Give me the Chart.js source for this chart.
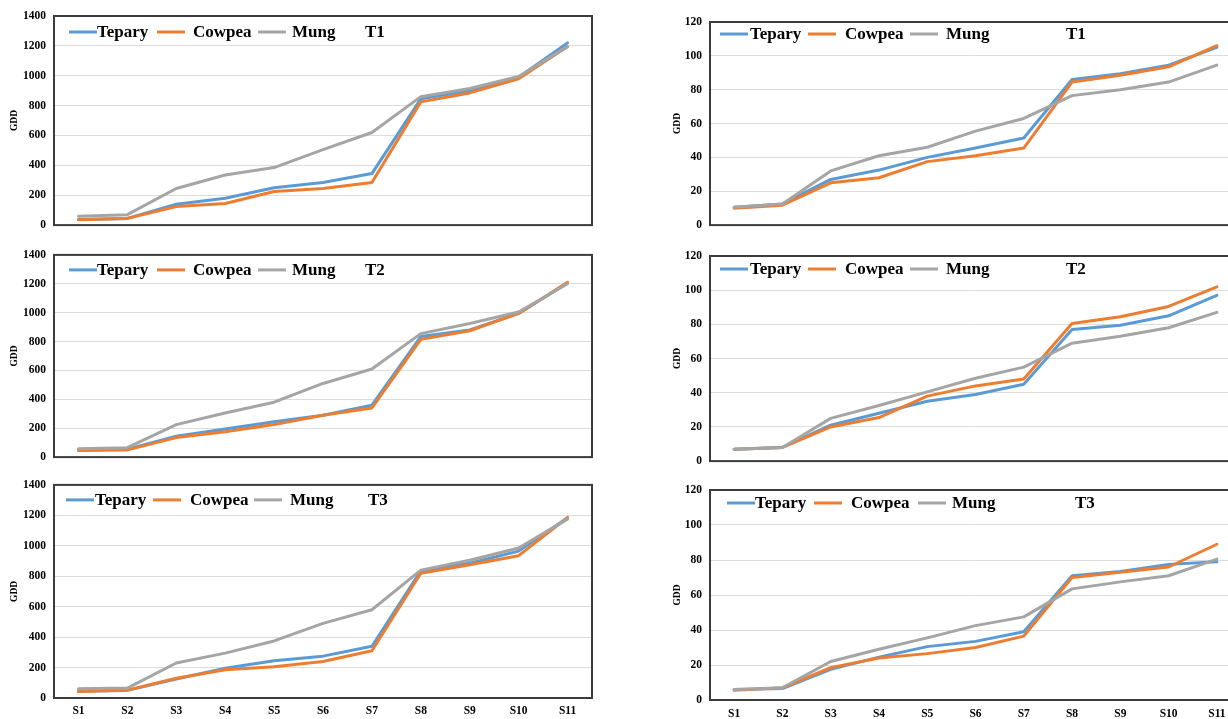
<!DOCTYPE html>
<html>
<head>
<meta charset="utf-8">
<script src="https://cdn.jsdelivr.net/npm/chart.js@4.4.1/dist/chart.umd.min.js"></script>
<style>
html,body{margin:0;padding:0;background:#fff;overflow:hidden;width:1228px;height:719px;position:relative}
canvas{position:absolute}
</style>
</head>
<body>
<canvas id="L1"></canvas>
<canvas id="L2"></canvas>
<canvas id="L3"></canvas>
<canvas id="R1"></canvas>
<canvas id="R2"></canvas>
<canvas id="R3"></canvas>
<script>
// ---------- DATA ----------
const categories = ['S1','S2','S3','S4','S5','S6','S7','S8','S9','S10','S11'];
const seriesNames = ['Tepary','Cowpea','Mung'];
const panelTitles = ['T1','T2','T3'];
const yAxisTitle = 'GDD';
const leftTickValues = [0,200,400,600,800,1000,1200,1400];
const rightTickValues = [0,20,40,60,80,100,120];

const leftT1Tepary = [38, 45, 140, 180, 250, 285, 345, 845, 900, 990, 1220];
const leftT1Cowpea = [35, 45, 125, 145, 225, 245, 285, 825, 885, 980, 1195];
const leftT1Mung   = [60, 70, 245, 335, 385, 505, 620, 860, 915, 995, 1195];

const leftT2Tepary = [50, 55, 145, 195, 245, 290, 360, 835, 880, 995, 1205];
const leftT2Cowpea = [45, 50, 135, 175, 225, 290, 340, 815, 875, 995, 1210];
const leftT2Mung   = [57, 65, 225, 305, 380, 510, 610, 855, 925, 1005, 1200];

const leftT3Tepary = [45, 50, 125, 195, 245, 275, 340, 835, 885, 965, 1185];
const leftT3Cowpea = [42, 52, 130, 185, 205, 240, 310, 820, 875, 935, 1185];
const leftT3Mung   = [60, 65, 230, 295, 375, 490, 580, 840, 905, 985, 1175];

const rightT1Tepary = [10.5, 12.5, 27, 32.5, 40, 45.5, 51.5, 86, 89.5, 94.5, 105];
const rightT1Cowpea = [10, 11.8, 25, 28, 37.5, 41, 45.5, 84.5, 88.5, 93.5, 106];
const rightT1Mung   = [10.5, 12.5, 32, 41, 46, 55.5, 63, 76.5, 80, 84.5, 94.5];

const rightT2Tepary = [7, 8, 21, 28, 35, 39, 45, 77, 79.5, 85, 97];
const rightT2Cowpea = [7, 8, 20, 25.5, 38, 44, 48, 80.5, 84.5, 90.5, 102];
const rightT2Mung   = [7, 8, 25, 32.5, 40.5, 48.5, 55, 69, 73, 78, 87];

const rightT3Tepary = [6, 6.5, 17.5, 24.5, 30.5, 33.5, 39, 71, 73.5, 77.5, 79];
const rightT3Cowpea = [5.5, 7, 18.5, 24, 26.5, 30, 36.5, 70, 73, 76, 89];
const rightT3Mung   = [6, 7, 22, 29, 35.5, 42.5, 47.5, 63.5, 67.5, 71, 80.5];

// ---------- STYLE ----------
const seriesColors = ['#5B9BD5', '#ED7D31', '#A5A5A5'];
const seriesOrder = [3, 2, 1];
const FONT = '"Liberation Serif", "Times New Roman", serif';

const framePlugin = {
  id: 'frame',
  beforeDatasetsDraw(chart) {
    const {ctx, chartArea: a} = chart;
    ctx.save();
    ctx.strokeStyle = '#3c3c3c';
    ctx.lineWidth = 2;
    ctx.strokeRect(a.left, a.top, a.right - a.left, a.bottom - a.top);
    ctx.restore();
  }
};

const insideLegend = {
  id: 'insideLegend',
  afterDatasetsDraw(chart, args, opts) {
    const {ctx, chartArea: a} = chart;
    const y = a.top + opts.dy;
    ctx.save();
    ctx.font = 'bold 17px ' + FONT;
    ctx.textBaseline = 'middle';
    ctx.textAlign = 'left';
    chart.data.datasets.forEach((ds, i) => {
      const it = opts.items[i];
      ctx.strokeStyle = ds.borderColor;
      ctx.lineWidth = 3;
      ctx.beginPath();
      ctx.moveTo(a.left + it[0], y);
      ctx.lineTo(a.left + it[0] + 28, y);
      ctx.stroke();
      ctx.fillStyle = '#000';
      ctx.fillText(ds.label, a.left + it[1], y + 1);
    });
    ctx.fillStyle = '#000';
    ctx.fillText(opts.title, a.left + opts.titleX, y + 1);
    ctx.restore();
  }
};

const leftLegend = {items: [[15, 43], [103, 139], [204, 238]], titleX: 311};
const rightLegend = {items: [[10, 40], [98, 135], [200, 236]], titleX: 356};

const panels = [
  {id: 'L1', left: 0,   top: 0,   w: 600, h: 240, padTop: 16, xH: 10, yW: 54, padRight: 8,  ticks: leftTickValues,  data: [leftT1Tepary, leftT1Cowpea, leftT1Mung], title: panelTitles[0], showX: false, legend: leftLegend, dy: 16, titlePad: 9, xPad: 6},
  {id: 'L2', left: 0,   top: 240, w: 600, h: 232, padTop: 11, xH: 7,  yW: 54, padRight: 8,  ticks: leftTickValues,  data: [leftT2Tepary, leftT2Cowpea, leftT2Mung], title: panelTitles[1], showX: false, legend: leftLegend, dy: 15, titlePad: 9, xPad: 6},
  {id: 'L3', left: 0,   top: 470, w: 600, h: 249, padTop: 14, xH: 21, yW: 54, padRight: 8,  ticks: leftTickValues,  data: [leftT3Tepary, leftT3Cowpea, leftT3Mung], title: panelTitles[2], showX: true,  legend: {items: [[12, 41], [99, 136], [200, 236]], titleX: 314}, dy: 15, titlePad: 9, xPad: 6},
  {id: 'R1', left: 640, top: 0,   w: 620, h: 240, padTop: 22, xH: 7,  yW: 70, padRight: 19, ticks: rightTickValues, data: [rightT1Tepary, rightT1Cowpea, rightT1Mung], title: panelTitles[0], showX: false, legend: rightLegend, dy: 12, titlePad: 32, xPad: 7},
  {id: 'R2', left: 640, top: 240, w: 620, h: 236, padTop: 16, xH: 7,  yW: 70, padRight: 19, ticks: rightTickValues, data: [rightT2Tepary, rightT2Cowpea, rightT2Mung], title: panelTitles[1], showX: false, legend: rightLegend, dy: 13, titlePad: 32, xPad: 7},
  {id: 'R3', left: 640, top: 475, w: 620, h: 244, padTop: 15, xH: 19, yW: 70, padRight: 19, ticks: rightTickValues, data: [rightT3Tepary, rightT3Cowpea, rightT3Mung], title: panelTitles[2], showX: true,  legend: {items: [[17, 45], [104, 141], [208, 242]], titleX: 365}, dy: 13, titlePad: 32, xPad: 7}
];

panels.forEach(p => {
  const cv = document.getElementById(p.id);
  cv.width = p.w; cv.height = p.h;
  cv.style.left = p.left + 'px'; cv.style.top = p.top + 'px';
  cv.style.width = p.w + 'px'; cv.style.height = p.h + 'px';
  const tmin = p.ticks[0], tmax = p.ticks[p.ticks.length - 1];
  const step = p.ticks[1] - p.ticks[0];
  new Chart(cv, {
    type: 'line',
    data: {
      labels: categories,
      datasets: seriesNames.map((name, i) => ({
        label: name,
        data: p.data[i],
        borderColor: seriesColors[i],
        backgroundColor: seriesColors[i],
        borderWidth: 3,
        pointRadius: 0,
        tension: 0,
        borderJoinStyle: 'round',
        borderCapStyle: 'round',
        order: seriesOrder[i],
        fill: false
      }))
    },
    options: {
      responsive: false,
      animation: false,
      devicePixelRatio: 1,
      layout: {padding: {top: p.padTop, right: p.padRight, left: 0, bottom: 0}},
      plugins: {
        legend: {display: false},
        tooltip: {enabled: false},
        insideLegend: {items: p.legend.items, titleX: p.legend.titleX, title: p.title, dy: p.dy}
      },
      scales: {
        x: {
          type: 'category',
          offset: true,
          grid: {display: false, drawTicks: false},
          border: {display: false},
          ticks: {display: p.showX, color: '#000', padding: p.xPad, maxRotation: 0, autoSkip: false,
                  font: {family: FONT, size: 11.5, weight: 'bold'}},
          afterFit: s => { s.height = p.xH; }
        },
        y: {
          min: tmin, max: tmax,
          grid: {color: '#dcdcdc', lineWidth: 1, drawTicks: false},
          border: {display: false},
          ticks: {stepSize: step, color: '#000', padding: 8,
                  callback: v => String(v),
                  font: {family: FONT, size: 11.5, weight: 'bold'}},
          title: {display: true, text: yAxisTitle, color: '#000', padding: {top: p.titlePad, bottom: 0},
                  font: {family: FONT, size: 9.5, weight: 'bold'}},
          afterFit: s => { s.width = p.yW; }
        }
      }
    },
    plugins: [framePlugin, insideLegend]
  });
});
</script>
</body>
</html>
